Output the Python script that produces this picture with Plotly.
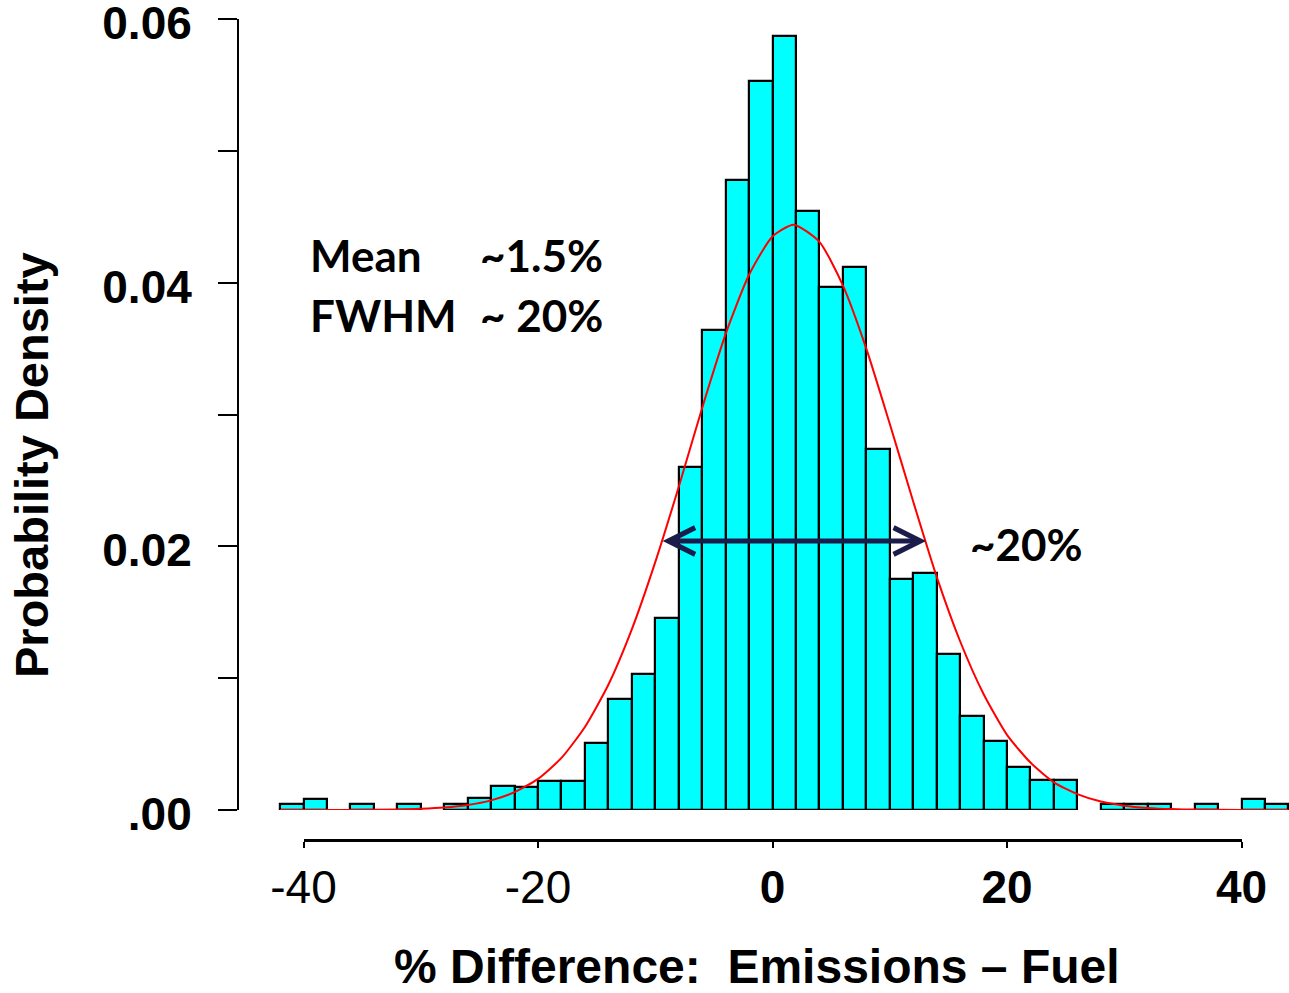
import plotly.graph_objects as go

# ---------------- data ----------------
BIN_START = list(range(-42, 44, 2))          # left edge of each 2 % bin
BIN_WIDTH = 2
DENSITY = [
    0.00043, 0.00086, 0.0, 0.00043, 0.0, 0.00043, 0.0, 0.00043,   # -42 .. -28
    0.00088, 0.00182, 0.00177, 0.0022, 0.0022,                      # -26 .. -18
    0.0051, 0.0084, 0.0103, 0.0146, 0.0260, 0.0364, 0.0478, 0.0553,  # -16 .. -2
    0.0587, 0.0454, 0.0397, 0.0412, 0.0274, 0.0175, 0.0180, 0.0118,  # 0 .. 14
    0.0071, 0.0052, 0.0033, 0.0023, 0.0023, 0.0,                     # 16 .. 26
    0.00043, 0.00043, 0.00043, 0.0, 0.00043, 0.0, 0.00086, 0.00043,  # 28 .. 42
]

CURVE_X = [-42, -36, -32, -30, -28, -26, -24, -22, -20, -18, -16, -14, -12, -10,
           -8, -6, -4, -2, 0, 1.8, 4, 6, 8, 10, 12, 14, 16, 18, 20, 22, 24, 26,
           28, 30, 32, 34, 36, 40, 44]
CURVE_Y = [0.0, 0.0, 0.00003, 0.00009, 0.00019, 0.00038, 0.00073, 0.00135,
           0.00236, 0.00395, 0.0063, 0.0095, 0.0137, 0.0188, 0.0245, 0.0305,
           0.0361, 0.0406, 0.0435, 0.0444, 0.0431, 0.0398, 0.0350, 0.0293,
           0.0234, 0.0177, 0.0128, 0.0088, 0.0057, 0.0036, 0.0021, 0.0012,
           0.00064, 0.00033, 0.00016, 0.00007, 0.00003, 0.0, 0.0]

ARROW_X = [-9.5, 13.1]      # FWHM arrow ends
ARROW_Y = 0.0204

XTICKS = [-40, -20, 0, 20, 40]
XTICK_TEXT = ["-40", "-20", "<b>0</b>", "<b>20</b>", "<b>40</b>"]
YTICKS = [0, 0.01, 0.02, 0.03, 0.04, 0.05, 0.06]
YTICK_TEXT = ["<b>.00</b>", "", "<b>0.02</b>", "", "<b>0.04</b>", "", "<b>0.06</b>"]

STATS_LABELS = ["Mean", "FWHM"]
STATS_VALUES = ["~1.5%", "~ 20%"]
WIDTH_LABEL = "~20%"

X_TITLE = "% Difference:  Emissions \u2013 Fuel"
Y_TITLE = "Probability Density"

# ---------------- layout geometry ----------------
OFF = 0                      # page (body) margin, removed by the post script
W, H = 1289 - 2 * OFF, 993 - 2 * OFF
ML, MT = 239 - OFF, 19 - OFF
MR = 0
MB = H - (840 - OFF)
plot_w = W - ML - MR
plot_h = H - MT - MB
gap = 30                                  # space between bar baseline and x axis line
ydom0 = gap / plot_h

px_per_unit = (1241.5 - 303.5) / 80.0     # page pixels per x unit
x0_page = 772.5                           # page pixel of x = 0
xr = [(ML + OFF - x0_page) / px_per_unit, (W + OFF - MR - x0_page) / px_per_unit]
x2dom = [(303.5 - OFF - ML) / plot_w, (1241.5 - OFF - ML) / plot_w]


def xd(px):      # page pixel -> data x
    return (px - x0_page) / px_per_unit


def yd(py):      # page pixel -> data y
    return (810 - py) * 0.06 / (plot_h - gap)


def xp(px):      # page pixel -> paper x
    return (px - OFF - ML) / plot_w


def yp(py):      # page pixel -> paper y
    return (MT + plot_h - (py - OFF)) / plot_h


ARIAL = "Liberation Sans, Arial, sans-serif"
CALIBRI = "Lato, Carlito, Calibri, sans-serif"

fig = go.Figure()

fig.add_trace(go.Bar(
    x=[s + BIN_WIDTH / 2 for s in BIN_START],
    y=[v if v > 0 else None for v in DENSITY],
    width=BIN_WIDTH,
    marker=dict(color="#00FFFF", line=dict(color="black", width=2.2)),
    hoverinfo="x+y", showlegend=False,
))

fig.add_trace(go.Scatter(
    x=CURVE_X, y=CURVE_Y, mode="lines",
    line=dict(color="#FF0000", width=2, shape="spline", smoothing=0.6),
    hoverinfo="skip", showlegend=False,
))

# helper trace so the detached (R style) x axis is drawn
fig.add_trace(go.Scatter(
    x=[XTICKS[0], XTICKS[-1]], y=[0, 0], xaxis="x2", yaxis="y",
    mode="lines", line=dict(width=0), opacity=0,
    hoverinfo="skip", showlegend=False,
))

fig.update_layout(
    width=W, height=H, autosize=False,
    margin=dict(l=ML, r=MR, t=MT, b=MB, pad=0, autoexpand=False),
    paper_bgcolor="white", plot_bgcolor="rgba(0,0,0,0)",
    bargap=0,
    xaxis=dict(range=xr, domain=[0, 1], visible=False, fixedrange=True, automargin=False),
    xaxis2=dict(
        range=[XTICKS[0], XTICKS[-1]], domain=x2dom, anchor="free", position=0,
        showline=True, linecolor="black", linewidth=2.5,
        ticks="outside", ticklen=6, tickwidth=2, tickcolor="black",
        tickvals=XTICKS, ticktext=XTICK_TEXT,
        tickfont=dict(family=ARIAL, size=46, color="black"),
        ticklabelstandoff=0, automargin=False,
        showgrid=False, zeroline=False,
    ),
    yaxis=dict(
        range=[0, 0.06], domain=[ydom0, 1],
        showline=True, linecolor="black", linewidth=2,
        ticks="outside", ticklen=19, tickwidth=2, tickcolor="black",
        tickvals=YTICKS, ticktext=YTICK_TEXT,
        tickfont=dict(family=ARIAL, size=46, color="black"),
        ticklabelstandoff=17, ticklabelshift=4, ticklabeloverflow="allow",
        automargin=False,
        showgrid=False, zeroline=False,
    ),
)

# FWHM arrow
fig.add_annotation(
    x=ARROW_X[1], y=ARROW_Y, ax=ARROW_X[0], ay=ARROW_Y,
    xref="x", yref="y", axref="x", ayref="y", text="",
    showarrow=True, arrowside="end+start",
    arrowhead=5, startarrowhead=5, arrowsize=1.05, startarrowsize=1.05,
    arrowwidth=5, arrowcolor="#1C1C4A", standoff=0, startstandoff=0,
)

# statistics text
for i, (lab, val) in enumerate(zip(STATS_LABELS, STATS_VALUES)):
    ypix = 255 + 60 * i
    fig.add_annotation(x=xd(308), y=yd(ypix), xref="x", yref="y", text=f"<b>{lab}</b>",
                       showarrow=False, xanchor="left", yanchor="middle",
                       font=dict(family=CALIBRI, size=44, color="black"))
    fig.add_annotation(x=xd(605), y=yd(ypix), xref="x", yref="y", text=f"<b>{val}</b>",
                       showarrow=False, xanchor="right", yanchor="middle",
                       font=dict(family=CALIBRI, size=44, color="black"))

fig.add_annotation(x=xd(968), y=yd(544), xref="x", yref="y", text=f"<b>{WIDTH_LABEL}</b>",
                   showarrow=False, xanchor="left", yanchor="middle",
                   font=dict(family=CALIBRI, size=44, color="black"))

# axis titles
fig.add_annotation(x=xp(32), y=yp(465), xref="paper", yref="paper",
                   text=f"<b>{Y_TITLE}</b>", textangle=-90,
                   showarrow=False, xanchor="center", yanchor="middle",
                   font=dict(family=ARIAL, size=47, color="black"))
fig.add_annotation(x=xp(757), y=yp(966), xref="paper", yref="paper",
                   text=f"<b>{X_TITLE}</b>",
                   showarrow=False, xanchor="center", yanchor="middle",
                   font=dict(family=ARIAL, size=48, color="black"))

fig.write_html(
    "out.html",
    config={"responsive": False, "displayModeBar": False},
    post_script="document.body.style.margin='0';document.body.style.overflow='hidden';",
)
